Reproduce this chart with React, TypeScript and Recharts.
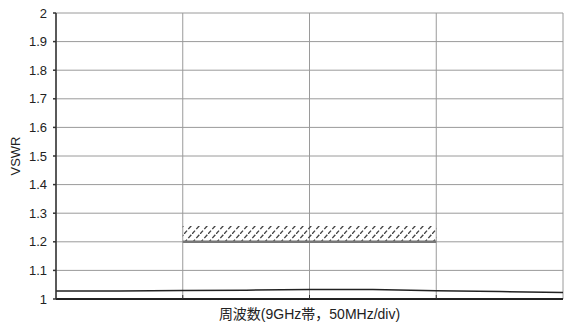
import {
  ComposedChart,
  Line,
  XAxis,
  YAxis,
  CartesianGrid,
  ReferenceArea,
  ReferenceLine,
} from "recharts";

// frequency offset in divisions (50MHz/div) and measured VSWR
const freqDiv = [0, 0.5, 1, 1.5, 2, 2.5, 3, 3.5, 4];
const vswr = [1.028, 1.028, 1.03, 1.031, 1.033, 1.033, 1.029, 1.026, 1.023];

// spec band
const specFrom = 1;
const specTo = 3;
const specLimit = 1.2;
const specHatchTop = 1.255;

const yTicks = [1, 1.1, 1.2, 1.3, 1.4, 1.5, 1.6, 1.7, 1.8, 1.9, 2];
const xTicks = [1, 2, 3];

const xLabel = "周波数(9GHz帯，50MHz/div)";
const yLabel = "VSWR";

const data = freqDiv.map((f, i) => ({ f, v: vswr[i] }));

const font = "'Liberation Sans', Arial, 'Noto Sans CJK JP', sans-serif";

export default function App() {
  return (
    <div style={{ position: "absolute", left: 0, top: 0, width: 565, height: 322 }}>
      <ComposedChart
        width={565}
        height={322}
        data={data}
        margin={{ top: 13, right: 2, left: 0, bottom: 0 }}
      >
        <defs>
          <pattern id="hatch" patternUnits="userSpaceOnUse" width="8" height="9">
            <line
              x1="0"
              y1="9"
              x2="8"
              y2="0"
              stroke="#444"
              strokeWidth={1.4}
              strokeDasharray="4.5 2"
            />
          </pattern>
        </defs>
        <CartesianGrid stroke="#9a9a9a" strokeWidth={1} />
        <XAxis
          type="number"
          dataKey="f"
          domain={[0, 4]}
          ticks={xTicks}
          height={23}
          tickSize={-4}
          tickFormatter={() => ""}
          stroke="#222"
          strokeWidth={2}
          tickLine={{ stroke: "#333", strokeWidth: 1 }}
          label={{
            value: xLabel,
            position: "insideBottom",
            offset: 3,
            fill: "#222",
            fontSize: 14,
            fontFamily: font,
          }}
        />
        <YAxis
          type="number"
          domain={[1, 2]}
          ticks={yTicks}
          width={56}
          tickSize={3}
          tickMargin={6}
          stroke="#333"
          strokeWidth={1.5}
          tick={{ fill: "#222", fontSize: 13, fontFamily: font }}
          label={{
            value: yLabel,
            angle: -90,
            position: "insideLeft",
            offset: 15,
            fill: "#222",
            fontSize: 13,
            fontFamily: font,
            style: { textAnchor: "middle" },
          }}
        />
        <ReferenceArea
          x1={specFrom}
          x2={specTo}
          y1={specLimit}
          y2={specHatchTop}
          fill="url(#hatch)"
          fillOpacity={1}
          stroke="none"
        />
        <ReferenceLine
          segment={[
            { x: specFrom, y: specLimit },
            { x: specTo, y: specLimit },
          ]}
          stroke="#777"
          strokeWidth={2.5}
        />
        <Line
          dataKey="v"
          stroke="#222"
          strokeWidth={1.5}
          dot={false}
          isAnimationActive={false}
        />
      </ComposedChart>
    </div>
  );
}
